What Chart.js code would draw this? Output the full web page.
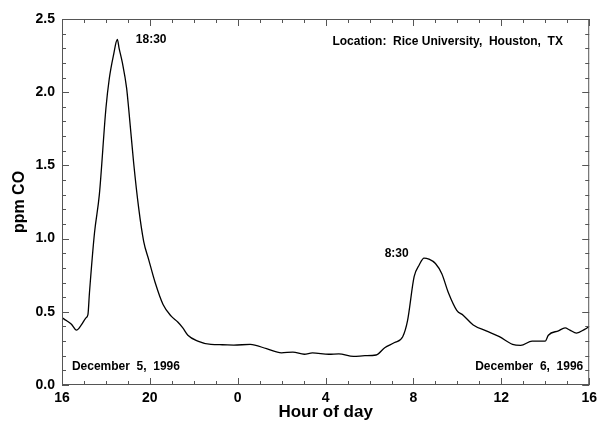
<!DOCTYPE html>
<html>
<head>
<meta charset="utf-8">
<script src="https://cdn.jsdelivr.net/npm/chart.js@4/dist/chart.umd.min.js"></script>
<style>
  html, body { margin: 0; padding: 0; background: #fff; }
  #wrap { width: 602px; height: 421px; }
</style>
</head>
<body>
<div id="wrap"><canvas id="co-chart" width="602" height="421"></canvas></div>
<script>
// hours since 16:00 on Dec 5 (16 .. 40)
const hours = [
    16.0, 16.2, 16.43, 16.66, 16.88, 17.1, 17.18, 17.25, 17.48, 17.7,
    18.0, 18.15, 18.34, 18.52, 18.6, 18.75, 18.94, 19.04, 19.26, 19.49,
    19.72, 19.94, 20.24, 20.6, 20.97, 21.27, 21.5, 21.73, 22.18, 22.78,
    23.3, 23.82, 24.57, 25.31, 25.99, 26.51, 27.03, 27.4, 28.15, 28.6,
    29.27, 29.79, 30.3, 30.69, 31.14, 31.51, 31.73, 32.03, 32.26, 32.48,
    32.7, 33.0, 33.29, 33.59, 33.97, 34.26, 34.72, 35.31, 35.91, 36.51,
    36.88, 37.4, 38.0, 38.14, 38.6, 38.9, 39.12, 39.42, 39.79, 40.0
];
const ppmCO = [
    0.46, 0.44, 0.415, 0.375, 0.41, 0.46, 0.48, 0.63, 1.04, 1.30,
    1.89, 2.09, 2.25, 2.36, 2.30, 2.20, 2.03, 1.88, 1.52, 1.21,
    0.98, 0.86, 0.70, 0.55, 0.47, 0.43, 0.39, 0.34, 0.30, 0.277,
    0.275, 0.273, 0.277, 0.248, 0.22, 0.225, 0.21, 0.22, 0.21, 0.213,
    0.195, 0.2, 0.205, 0.255, 0.29, 0.33, 0.44, 0.74, 0.82, 0.867,
    0.86, 0.83, 0.76, 0.63, 0.51, 0.477, 0.41, 0.37, 0.33, 0.277,
    0.27, 0.30, 0.30, 0.34, 0.37, 0.39, 0.375, 0.355, 0.38, 0.40
];

const xTickValues = [16, 20, 24, 28, 32, 36, 40];
const xTickLabels = ['16', '20', '0', '4', '8', '12', '16'];

// text notes, placed in data coordinates
const noteTexts = ['18:30', 'Location:  Rice University,  Houston,  TX', '8:30', 'December  5,  1996', 'December  6,  1996'];
const noteHours = [19.36, 28.31, 30.69, 16.45, 34.81];
const noteValues = [2.36, 2.345, 0.90, 0.125, 0.125];

const points = hours.map((h, i) => ({ x: h, y: ppmCO[i] }));
const FONT = "'Liberation Sans', Arial, Helvetica, sans-serif";

// frame, inward ticks and notes
const framePlugin = {
    id: 'frame',
    afterDraw(chart) {
        const { ctx, chartArea: { left, right, top, bottom }, scales: { x, y } } = chart;
        ctx.save();
        ctx.strokeStyle = '#555';
        ctx.lineWidth = 1;
        ctx.strokeRect(left + 0.5, top + 0.5, right - left - 1, bottom - top - 1);

        ctx.beginPath();
        for (let h = 16; h <= 40; h++) {
            const px = Math.round(x.getPixelForValue(h)) + 0.5;
            const len = h % 4 === 0 ? 7 : 4;
            ctx.moveTo(px, bottom); ctx.lineTo(px, bottom - len);
            ctx.moveTo(px, top); ctx.lineTo(px, top + len);
        }
        for (let i = 0; i <= 25; i++) {
            const py = Math.round(y.getPixelForValue(i / 10)) + 0.5;
            const len = i % 5 === 0 ? 7 : 4;
            ctx.moveTo(left, py); ctx.lineTo(left + len, py);
            ctx.moveTo(right, py); ctx.lineTo(right - len, py);
        }
        ctx.stroke();

        ctx.fillStyle = '#000';
        ctx.font = 'bold 12px ' + FONT;
        ctx.textBaseline = 'middle';
        ctx.textAlign = 'left';
        noteTexts.forEach((t, i) => {
            ctx.fillText(t, x.getPixelForValue(noteHours[i]), y.getPixelForValue(noteValues[i]));
        });
        ctx.restore();
    }
};

const ctx = document.getElementById('co-chart').getContext('2d');
new Chart(ctx, {
    type: 'line',
    data: {
        datasets: [{
            data: points,
            borderColor: '#000',
            borderWidth: 1.3,
            pointRadius: 0,
            fill: false,
            cubicInterpolationMode: 'monotone'
        }]
    },
    options: {
        responsive: false,
        animation: false,
        layout: { padding: { left: 0, right: 4, top: 19, bottom: 0 }, autoPadding: false },
        plugins: {
            legend: { display: false },
            tooltip: { enabled: false }
        },
        scales: {
            x: {
                type: 'linear',
                min: 16,
                max: 40,
                afterFit: s => { s.height = 36; },
                afterBuildTicks: s => { s.ticks = xTickValues.map(v => ({ value: v })); },
                grid: { display: false, drawTicks: false },
                border: { display: false },
                ticks: {
                    padding: 5,
                    color: '#000',
                    maxRotation: 0,
                    font: { family: FONT, size: 14, weight: 'bold' },
                    callback: v => xTickLabels[xTickValues.indexOf(v)]
                },
                title: {
                    display: true,
                    text: 'Hour of day',
                    color: '#000',
                    padding: { top: 0, bottom: 0 },
                    font: { family: FONT, size: 17, weight: 'bold', lineHeight: 1 }
                }
            },
            y: {
                min: 0,
                max: 2.5,
                afterFit: s => { s.width = 62; },
                grid: { display: false, drawTicks: false },
                border: { display: false },
                ticks: {
                    stepSize: 0.5,
                    padding: 7,
                    color: '#000',
                    font: { family: FONT, size: 14, weight: 'bold' },
                    callback: v => v.toFixed(1)
                },
                title: {
                    display: true,
                    text: 'ppm CO',
                    color: '#000',
                    padding: { top: 12, bottom: 0 },
                    font: { family: FONT, size: 16, weight: 'bold', lineHeight: 1 }
                }
            }
        }
    },
    plugins: [framePlugin]
});
</script>
</body>
</html>
